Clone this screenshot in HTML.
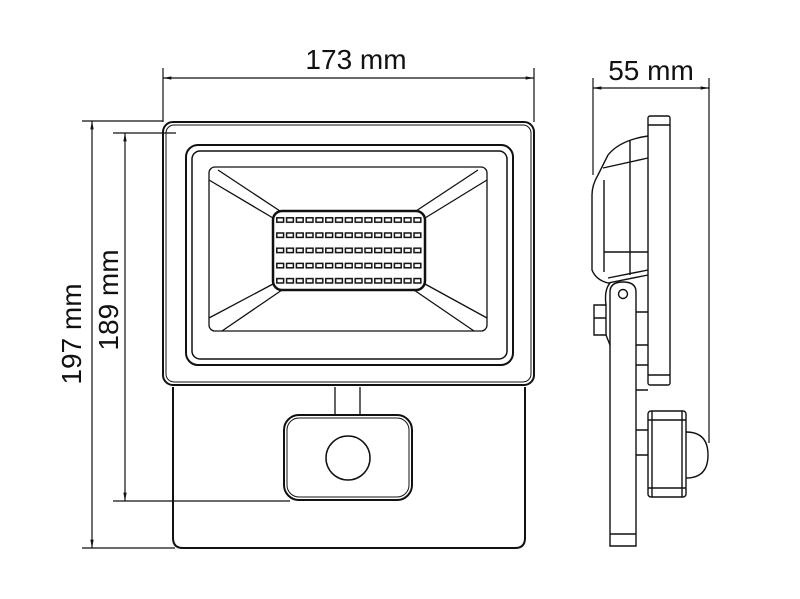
<!DOCTYPE html>
<html><head><meta charset="utf-8"><style>
html,body{margin:0;padding:0;background:#fff}
svg{display:block}
text{font-family:"Liberation Sans",sans-serif;font-size:28px;fill:#111}
</style></head><body>
<svg width="800" height="599" viewBox="0 0 800 599" xmlns="http://www.w3.org/2000/svg">
<defs>
<pattern id="led" x="276" y="217" width="9.8" height="15.2" patternUnits="userSpaceOnUse">
<rect x="0.8" y="0.8" width="6.8" height="4.4" fill="none" stroke="#111" stroke-width="1.5"/>
</pattern>
<marker id="a" viewBox="0 0 10 10" refX="10" refY="5" markerWidth="7" markerHeight="7" orient="auto-start-reverse"><path d="M0,3 L10,5 L0,7z" fill="#111"/></marker>
</defs>
<g stroke="#111" fill="none" stroke-width="1.2">
<line x1="163" y1="68" x2="163" y2="122"/>
<line x1="534" y1="68" x2="534" y2="122"/>
<line x1="163" y1="78" x2="534" y2="78" marker-start="url(#a)" marker-end="url(#a)"/>
<line x1="593" y1="78" x2="593" y2="175"/>
<line x1="709" y1="78" x2="709" y2="443"/>
<line x1="593" y1="88" x2="709" y2="88" marker-start="url(#a)" marker-end="url(#a)"/>
<line x1="82" y1="121" x2="163" y2="121"/>
<line x1="82" y1="548" x2="175" y2="548"/>
<line x1="92" y1="121" x2="92" y2="548" marker-start="url(#a)" marker-end="url(#a)"/>
<line x1="113" y1="133" x2="176" y2="133"/>
<line x1="113" y1="501" x2="290" y2="501"/>
<line x1="125" y1="133" x2="125" y2="501" marker-start="url(#a)" marker-end="url(#a)"/>
</g>
<g stroke="#111" fill="none" stroke-width="2">
<rect x="163" y="122" width="371" height="263" rx="10"/>
<rect x="166" y="125" width="365" height="257" rx="8" stroke-width="1"/>
<rect x="186" y="145" width="327" height="220" rx="12"/>
<rect x="192" y="151" width="315" height="208" rx="8" stroke-width="1.5"/>
<rect x="209" y="167" width="278" height="164" rx="6" stroke-width="1.3"/>
<g stroke-width="1.3">
<path d="M218,170 L280,211 M209,180 L273,218"/>
<path d="M478,170 L416,211 M487,180 L425,218"/>
<path d="M209,318 L273,284 M222,331 L282,290"/>
<path d="M487,318 L425,284 M474,331 L414,290"/>
</g>
<rect x="273" y="211" width="152" height="79" rx="9" stroke-width="2.5"/>
<rect x="276" y="217" width="147" height="72" fill="url(#led)" stroke="none"/>
<path d="M173,387 L173,538 Q173,548 183,548 L515,548 Q525,548 525,538 L525,387"/>
<path d="M335,387 L335,414 M360,387 L360,414" stroke-width="1.3"/>
<rect x="284" y="415" width="128" height="85" rx="15"/>
<rect x="287" y="418" width="122" height="79" rx="12" stroke-width="1"/>
<circle cx="348" cy="458" r="22" stroke-width="1.5"/>
</g>
<g stroke="#111" fill="none" stroke-width="1.4">
<rect x="648" y="116" width="22" height="269" rx="2"/>
<line x1="648" y1="125" x2="670" y2="125"/>
<line x1="648" y1="375" x2="670" y2="375"/>
<path d="M648,136 Q620,140 608,155 L598,175 Q592,185 592,195 L592,270 Q596,280 608,283 L648,275"/>
<path d="M603,168 L648,158 M630,140 L630,275 M604,180 L604,272 M604,252 L648,252 M608,278 L648,270"/>
<path d="M594,305 L606,305 L606,335 L594,335z M594,318 L606,318"/>
<path d="M606,335 L610,345 M610,283 Q604,290 606,305"/>
<path d="M636,312 L648,312 M636,345 L648,345 M636,365 L648,365 M636,390 L648,390"/>
<path d="M610,292 Q610,282 623,282 Q636,282 636,292 L636,546 L610,546 Z"/>
<line x1="610" y1="534" x2="636" y2="534"/>
<circle cx="623" cy="294" r="4.5"/>
<rect x="648" y="411" width="38" height="86" rx="3"/>
<line x1="652" y1="411" x2="652" y2="497"/>
<line x1="682" y1="411" x2="682" y2="497"/>
<line x1="648" y1="420" x2="686" y2="420"/>
<line x1="648" y1="488" x2="686" y2="488"/>
<path d="M686,432 Q708,432 708,455 Q708,478 686,478"/>
<path d="M636,430 L648,430 M636,455 L648,455"/>
</g>
<text x="356" y="69" text-anchor="middle">173 mm</text>
<text x="651" y="80" text-anchor="middle">55 mm</text>
<text transform="translate(81,334) rotate(-90)" text-anchor="middle">197 mm</text>
<text transform="translate(118,300) rotate(-90)" text-anchor="middle">189 mm</text>
</svg>
</body></html>
